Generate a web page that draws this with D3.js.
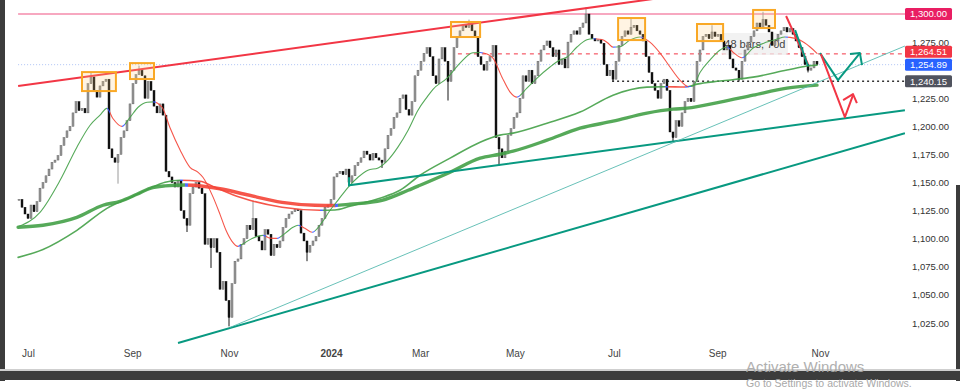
<!DOCTYPE html>
<html>
<head>
<meta charset="utf-8">
<script src="https://cdn.jsdelivr.net/npm/d3@7"></script>
<style>
  body { margin: 0; background: #fff; }
  svg text { font-family: "Liberation Sans", Arial, sans-serif; }
</style>
</head>
<body>
<div id="chart"></div>
<script>
// daily closes (one per trading bar)
const closes = [
  1135,1128,1122,1118,1130,1124,1133,1145,1150,1156,
  1162,1168,1170,1174,1183,1190,1196,1200,1212,1222,
  1214,1216,1212,1238,1244,1232,1226,1236,1240,1242,
  1180,1172,1168,1175,1190,1196,1205,1220,1238,1246,
  1250,1245,1225,1240,1232,1218,1212,1220,1210,1160,
  1155,1150,1146,1152,1125,1118,1112,1140,1146,1150,
  1145,1140,1095,1100,1092,1100,1088,1055,1062,1045,
  1030,1060,1080,1082,1095,1100,1112,1108,1118,1102,
  1098,1090,1108,1104,1085,1095,1092,1098,1110,1118,
  1122,1124,1126,1125,1105,1098,1088,1094,1098,1102,
  1112,1118,1128,1130,1135,1155,1158,1160,1157,1162,
  1150,1156,1165,1168,1172,1178,1175,1170,1176,1172,
  1170,1168,1180,1192,1198,1208,1212,1225,1228,1215,
  1210,1222,1245,1250,1258,1265,1270,1262,1245,1238,
  1260,1270,1258,1240,1250,1270,1280,1285,1290,1288,
  1292,1285,1280,1262,1255,1250,1258,1262,1272,1190,
  1180,1172,1178,1192,1198,1208,1212,1225,1245,1240,
  1250,1238,1245,1258,1268,1272,1276,1270,1262,1268,
  1255,1260,1252,1275,1282,1285,1282,1288,1292,1300,
  1282,1278,1276,1277,1274,1255,1245,1250,1242,1258,
  1272,1280,1285,1282,1288,1290,1285,1282,1276,1262,
  1248,1238,1232,1225,1238,1242,1232,1195,1190,1205,
  1200,1212,1222,1225,1222,1240,1258,1268,1280,1282,
  1278,1284,1280,1282,1276,1268,1272,1260,1252,1250,
  1242,1258,1268,1275,1280,1285,1292,1288,1295,1290,
  1284,1272,1276,1282,1285,1288,1284,1287,1282,1276,
  1270,1262,1255,1250,1252,1258,1254.89
];

// visible long wicks [bar, price]
const wickHighs = [[24,1248],[40,1254],[78,1134],[150,1295],[189,1306],[204,1297],[231,1290],[248,1302]];
const wickLows = [[33,1149],[56,1106],[64,1074],[70,1022],[96,1080],[121,1163],[143,1223],
  [160,1165],[198,1240],[218,1186],[240,1240],[263,1248]];

// moving averages [bar, value]
const ma20 = [[0,1111],[7,1123.5],[13.7,1152],[19.3,1181.5],[23.7,1201],[27,1210],[29.3,1216],[31.3,1207],
  [34.3,1200],[37,1208],[39.7,1217],[42.7,1221.5],[44.7,1221.8],[47.7,1217],[50.3,1199],[53.7,1179],
  [57,1163.6],[59.7,1159],[61.3,1154.7],[64.7,1137],[67,1121.7],[69,1107.5],[71,1097.7],[73,1093.2],
  [74.7,1095.5],[77.7,1100.3],[81.3,1103],[83.7,1100.5],[86,1100.3],[88.7,1104.8],[91.3,1110.2],[93,1112],
  [95.3,1109.3],[97.7,1105.7],[101,1114.6],[103.7,1125.3],[106.3,1134.2],[109.7,1145.8],[113,1154.7],
  [116.3,1161],[119.7,1163],[123,1170],[126.3,1181.5],[129.7,1196.6],[133,1214.4],[136,1226],[138,1233],
  [142.7,1243],[147,1256.3],[151.3,1265.5],[153.7,1265.8],[156,1264.3],[158,1260.8],[161,1243.8],
  [163.7,1230.5],[166,1226],[169.3,1234],[172.7,1243],[177,1252.8],[180.3,1259],[182.7,1261.7],
  [186,1270.6],[189.3,1277],[191.3,1278],[194.3,1277.3],[196.3,1274.2],[198,1270.5],[200.3,1270.8],
  [203.7,1276.8],[207,1279.5],[210.3,1275],[213.7,1265.2],[217,1252.8],[220.3,1241.2],[223,1235.5],
  [224.7,1236],[227,1248],[230.3,1259],[233.7,1268],[236,1270.6],[238,1266],[241,1261],[244.7,1269.7],
  [249.3,1275],[252.7,1277.7],[255.3,1279.5],[257,1279.2],[260.3,1276.8],[263.7,1270.6],[266,1265]];
const ma50 = [[-0.3,1083.4],[8,1090.5],[19.3,1107.5],[29.3,1127],[38,1137.8],[43.7,1144.9],[48.7,1150.3],
  [53.7,1152],[60.3,1151.2],[65.3,1145.8],[73.7,1136.9],[87.7,1128],[100.3,1125.3],[105.3,1125.6],
  [110.3,1128.9],[120.3,1136],[127,1143.1],[133.7,1156.5],[143.7,1171.7],[153.7,1185.9],[160.3,1192.2],
  [164.7,1194],[176,1202.8],[187,1212.7],[198,1227.8],[209.3,1234.9],[215.3,1235.3],[222,1235],
  [226,1237.6],[233.7,1240.3],[244.7,1243.8],[256,1250.1],[262.7,1253.7],[266,1254.5]];
const ma100 = [[-0.3,1110.2],[8,1112],[19.3,1119],[28,1129.8],[33.7,1133.3],[39.3,1139.6],[43.7,1144.9],
  [48.7,1147],[55.3,1147.8],[62,1146.5],[67,1144.5],[75.3,1139.6],[87.7,1132.4],[98.7,1129.8],
  [105.3,1129.6],[110.3,1130.7],[121,1134.2],[129.7,1143.1],[133.7,1147.6],[143.7,1159.2],[153.7,1171.7],
  [160.3,1175.2],[164.7,1177.9],[176,1187.7],[187,1198.4],[198,1204.6],[209.3,1211.8],[218,1215.3],
  [222.7,1216.2],[233.7,1221.6],[244.7,1227.8],[256,1234],[266,1236.7]];

// drawings [bar, price]
const resistLine = [[-0.3,1235.9],[212,1313.6]];
const supportLow = [[53,1007.2],[295.3,1193.9]];
const supportMid = [[110,1154.7],[110,1147.6],[295.3,1214.4]];
const supportThin = [[70.3,1021],[295.3,1271.5]];
const zoneBoxes = [[21,32.3,1231.4,1248.3],[37,45,1242.1,1256.3],[144,153.7,1279.5,1292.9],
  [199.7,208.7,1276.8,1296.4],[226,234.7,1275.9,1291.1],[244.7,252,1287.5,1303.6]];
const rangeBox = [234.3,256.3,1263.5,1283];
const rangeText = "48 bars, 70d";
const redPath1 = [[255.7,1298.2],[263,1255.4]];
const tealPath1 = [[258.7,1285.7],[263,1253.7]];
const tealPath2 = [[267,1265.2],[273,1241.2],[280.3,1265.2]];
const tealHead = [[277,1264.3],[280.3,1265.2],[281,1254.5]];
const redPath2 = [[267.3,1264.3],[275.3,1208.2],[278,1227.8]];
const redHead = [[274.7,1223.3],[278,1228.7],[279.3,1220.7]];

// horizontal levels and where they start
const levelValues = [1300, 1264.51, 1254.89, 1240.15];
const levelStart = [-0.3, 146.3, -0.3, 197.7];

// axes
const yTicks = [1025,1050,1075,1100,1125,1150,1175,1200,1225,1250,1275,1300];
const xTickIdx = [3, 37.7, 70, 104, 133.7, 165.3, 198.3, 232.7, 267];
const xTickLabels = ["Jul","Sep","Nov","2024","Mar","May","Jul","Sep","Nov"];

const W = 960, H = 389, plotRight = 905, plotBottom = 345;
const svg = d3.select("#chart").append("svg").attr("width", W).attr("height", H);
svg.append("rect").attr("width", W).attr("height", H).attr("fill", "#fff");
const defs = svg.append("defs");
defs.append("clipPath").attr("id", "plotClip")
  .append("rect").attr("x", 5).attr("y", 0).attr("width", plotRight - 5).attr("height", plotBottom);

const x = d3.scaleLinear().domain([0, closes.length - 1]).range([19, 817]);
const y = d3.scaleLinear().domain([1025, 1300]).range([323, 14]);
const fmt = d3.format(",.2f");
const line = d3.line().x(d => x(d[0])).y(d => y(d[1]));

const plot = svg.append("g").attr("clip-path", "url(#plotClip)");

// horizontal levels
const levelStyles = [
  { stroke: "#f7a8c0", width: 2, dash: null },
  { stroke: "#f23645", width: 1, dash: "4,4" },
  { stroke: "#aec3f5", width: 1, dash: "1,2" },
  { stroke: "#333", width: 1.5, dash: "2,3" }
];
levelValues.forEach((v, k) => {
  plot.append("line")
    .attr("x1", x(levelStart[k])).attr("x2", plotRight)
    .attr("y1", y(v)).attr("y2", y(v))
    .attr("stroke", levelStyles[k].stroke)
    .attr("stroke-width", levelStyles[k].width)
    .attr("stroke-dasharray", levelStyles[k].dash);
});

// date range label (sits behind candles)
plot.append("rect")
  .attr("x", x(rangeBox[0])).attr("y", y(rangeBox[3]))
  .attr("width", x(rangeBox[1]) - x(rangeBox[0]))
  .attr("height", y(rangeBox[2]) - y(rangeBox[3]))
  .attr("fill", "#eeeeee").attr("opacity", 0.75).attr("rx", 2);
plot.append("text")
  .attr("x", (x(rangeBox[0]) + x(rangeBox[1])) / 2)
  .attr("y", (y(rangeBox[2]) + y(rangeBox[3])) / 2 + 4)
  .attr("text-anchor", "middle").attr("font-size", 11).attr("fill", "#444")
  .text(rangeText);

// candles
const candles = closes.map((c, i) => ({ i, o: i ? closes[i - 1] : c, c }));
const highMap = new Map(wickHighs), lowMap = new Map(wickLows);
const candleColor = d => (d.c < d.o ? "#161616" : "#9a9a9a");

plot.append("g").selectAll("line")
  .data(candles.filter(d => highMap.has(d.i) || lowMap.has(d.i)))
  .join("line")
  .attr("x1", d => x(d.i)).attr("x2", d => x(d.i))
  .attr("y1", d => y(highMap.has(d.i) ? highMap.get(d.i) : Math.max(d.o, d.c)))
  .attr("y2", d => y(lowMap.has(d.i) ? lowMap.get(d.i) : Math.min(d.o, d.c)))
  .attr("stroke", candleColor).attr("stroke-width", 1);

plot.append("g").selectAll("rect")
  .data(candles)
  .join("rect")
  .attr("x", d => x(d.i) - 1)
  .attr("width", 2)
  .attr("y", d => y(Math.max(d.o, d.c)))
  .attr("height", d => Math.max(1, y(Math.min(d.o, d.c)) - y(Math.max(d.o, d.c))))
  .attr("fill", candleColor)
  .attr("stroke", d => (d.c < d.o ? "#000" : "#555"))
  .attr("stroke-width", 0.4);

// moving averages: green rising, red falling, short blue mark where direction turns
function slopeLine(pts, width, id) {
  const grad = defs.append("linearGradient").attr("id", id)
    .attr("gradientUnits", "userSpaceOnUse")
    .attr("x1", 0).attr("x2", W).attr("y1", 0).attr("y2", 0);
  const stop = (px, col) => grad.append("stop").attr("offset", px / W).attr("stop-color", col);
  let prev = null;
  for (let k = 0; k < pts.length - 1; k++) {
    const up = pts[k + 1][1] >= pts[k][1];
    const col = up ? "#43a047" : "#f44336";
    const x0 = x(pts[k][0]), x1 = x(pts[k + 1][0]);
    if (prev !== null && prev !== up) {
      stop(x0 - 3, prev ? "#43a047" : "#f44336");
      stop(x0 - 3, "#3d5afe");
      stop(x0 + 3, "#3d5afe");
      stop(x0 + 3, col);
    } else {
      stop(x0, col);
    }
    stop(x1, col);
    prev = up;
  }
  plot.append("path")
    .datum(pts)
    .attr("fill", "none")
    .attr("stroke", `url(#${id})`)
    .attr("stroke-width", width)
    .attr("stroke-linecap", "round")
    .attr("opacity", 0.9)
    .attr("d", d3.line().x(d => x(d[0])).y(d => y(d[1])).curve(d3.curveMonotoneX));
}
slopeLine(ma100, 3.4, "g100");
slopeLine(ma50, 1.6, "g50");
slopeLine(ma20, 1.1, "g20");

// trend lines
plot.append("path").datum(resistLine).attr("d", line)
  .attr("stroke", "#f23645").attr("stroke-width", 2).attr("fill", "none");
plot.append("path").datum(supportLow).attr("d", line)
  .attr("stroke", "#089981").attr("stroke-width", 2).attr("fill", "none");
plot.append("path").datum(supportMid).attr("d", line)
  .attr("stroke", "#089981").attr("stroke-width", 2).attr("fill", "none");
plot.append("path").datum(supportThin).attr("d", line)
  .attr("stroke", "#4db6ac").attr("stroke-width", 1).attr("opacity", 0.85).attr("fill", "none");

// zones
plot.append("g").selectAll("rect")
  .data(zoneBoxes)
  .join("rect")
  .attr("x", d => x(d[0])).attr("y", d => y(d[3]))
  .attr("width", d => x(d[1]) - x(d[0]))
  .attr("height", d => y(d[2]) - y(d[3]))
  .attr("fill", "rgba(255,204,128,0.22)")
  .attr("stroke", "#f9a825").attr("stroke-width", 2);

// projection arrows
[[redPath1, "#f23645"], [tealPath1, "#089981"], [tealPath2, "#089981"], [tealHead, "#089981"],
 [redPath2, "#f23645"], [redHead, "#f23645"]].forEach(([pts, col]) => {
  plot.append("path").datum(pts).attr("d", line)
    .attr("fill", "none").attr("stroke", col).attr("stroke-width", 2)
    .attr("stroke-linejoin", "round");
});

// price tags on the axis (stacked so they do not collide)
const tagColors = ["#e91e63", "#f23645", "#2962ff", "#50535e"];
const tagH = 12;
const tags = levelValues.map((v, k) => ({ v, k, top: y(v) - tagH / 2 }))
  .sort((a, b) => b.top - a.top);
for (let k = 1; k < tags.length; k++) {
  if (tags[k].top + tagH > tags[k - 1].top - 1) tags[k].top = tags[k - 1].top - 1 - tagH;
}

// y axis, hiding labels that sit under a tag
const yAxis = svg.append("g")
  .attr("transform", `translate(${plotRight},0)`)
  .call(d3.axisRight(y)
    .tickValues(yTicks.filter(v => tags.every(t => Math.abs(y(v) - (t.top + tagH / 2)) > 9)))
    .tickSize(0).tickPadding(7).tickFormat(fmt));
yAxis.select(".domain").remove();
yAxis.selectAll("text").attr("font-size", 9.5).attr("fill", "#333")
  .style("font-family", '"Liberation Sans", Arial, sans-serif');

const tagG = svg.append("g");
tags.forEach(t => {
  tagG.append("rect").attr("x", 905).attr("y", t.top).attr("width", 47).attr("height", tagH)
    .attr("rx", 1.5).attr("fill", tagColors[t.k]);
  tagG.append("text").attr("x", 928.5).attr("y", t.top + 9.3)
    .attr("text-anchor", "middle").attr("font-size", 9.5).attr("fill", "#fff")
    .text(fmt(t.v));
});

// x axis
const xAxis = svg.append("g")
  .attr("transform", `translate(0,341)`)
  .call(d3.axisBottom(x).tickValues(xTickIdx).tickSize(0).tickPadding(9)
    .tickFormat((d, i) => xTickLabels[i]));
xAxis.select(".domain").remove();
xAxis.selectAll("text").attr("font-size", 10).attr("fill", "#444")
  .style("font-family", '"Liberation Sans", Arial, sans-serif')
  .attr("font-weight", d => (d === 104 ? "bold" : "normal"));

// window frame
svg.append("rect").attr("x", 0).attr("y", 0).attr("width", 5).attr("height", 381).attr("fill", "#3c3c3c");
svg.append("rect").attr("x", 956).attr("y", 185).attr("width", 4).attr("height", 196).attr("fill", "#3c3c3c");
svg.append("rect").attr("x", 0).attr("y", 369).attr("width", W).attr("height", 2).attr("fill", "#cfcfcf");
svg.append("rect").attr("x", 0).attr("y", 371).attr("width", W).attr("height", 9).attr("fill", "#3c3c3c");

// watermark
svg.append("text").attr("x", 746).attr("y", 372).attr("font-size", 15)
  .attr("fill", "#a8a8a8").attr("opacity", 0.9).text("Activate Windows");
svg.append("text").attr("x", 746).attr("y", 386.5).attr("font-size", 10.5)
  .attr("fill", "#a8a8a8").text("Go to Settings to activate Windows.");
</script>
</body>
</html>
